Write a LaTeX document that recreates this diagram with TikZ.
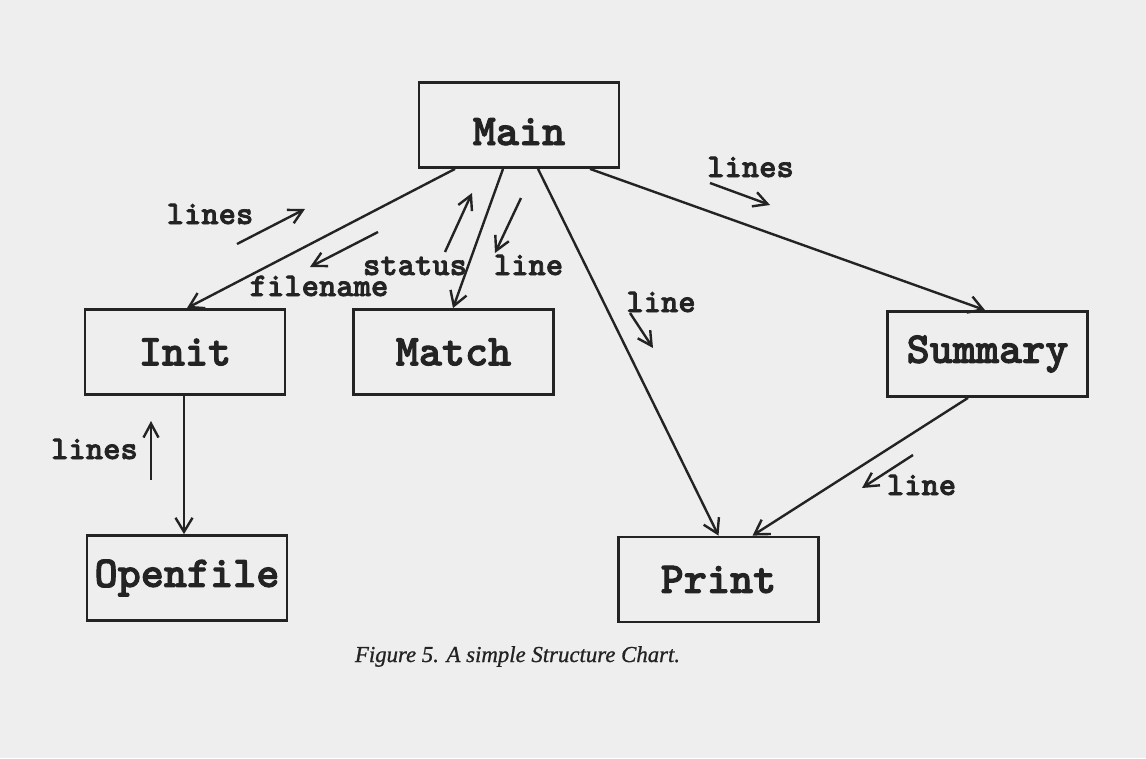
\documentclass[tikz,border=0pt]{standalone}
\usepackage{fontspec}
\newfontfamily\captionfont[FakeBold=0.8]{Liberation Serif}
\newfontfamily\chartfont[FakeBold=2.2]{lmmonolt10-bold.otf}
\usetikzlibrary{arrows.meta}
\definecolor{paper}{RGB}{238,238,238}
\definecolor{ink}{RGB}{35,35,35}
\tikzset{
  module/.style={draw=ink, line width=2.8pt, fill=paper, inner sep=0pt,
    minimum width=200pt, minimum height=85pt,
    font=\fontsize{44}{46}\selectfont\chartfont, text=ink},
  call/.style={draw=ink, line width=2.4pt,
    -{Straight Barb[length=14pt,width=17pt,line width=2.4pt]}},
  flow/.style={draw=ink, line width=2.4pt,
    -{Straight Barb[length=14pt,width=15pt,line width=2.4pt]}},
  datalabel/.style={anchor=base, inner sep=0pt, text=ink,
    font=\fontsize{33}{34}\selectfont\chartfont}
}
\begin{document}
\begin{tikzpicture}[x=1pt, y=-1pt]
\fill[paper] (0,0) rectangle (1146,758);
\useasboundingbox (0,0) rectangle (1146,758);

% modules
\node[module, text height=40pt, text depth=0pt] (main) at (519,125) {Main};
\node[module] (init)     at (185,352)     {Init};
\node[module] (match)    at (453.5,352)   {Match};
\node[module] (summary)  at (987.5,354)   {Summary};
\node[module] (print)    at (718.5,579.5) {Print};
\node[module] (openfile) at (187,578)     {Openfile};

% calls
\draw[call] ([xshift=-64pt]main.south)   -- ([xshift=2pt]init.north);
\draw[call] ([xshift=-16pt]main.south)   -- ([xshift=-0.5pt]match.north);
\draw[call] ([xshift=19pt]main.south)    -- (print.north);
\draw[call] ([xshift=71pt]main.south)    -- ([xshift=-2.5pt]summary.north);
\draw[call] ([xshift=-19.5pt]summary.south) -- ([xshift=34pt]print.north);
\draw[call] ([xshift=-1pt]init.south)    -- ([xshift=-3pt]openfile.north);

% data couples
\coordinate (l1a) at (237,244); \coordinate (l1b) at (305,209);
\coordinate (fna) at (378,232); \coordinate (fnb) at (310,267);
\coordinate (sta) at (445,252); \coordinate (stb) at (472,193);
\coordinate (lma) at (521,198); \coordinate (lmb) at (495,253);
\coordinate (lsa) at (710,183); \coordinate (lsb) at (770,205);
\coordinate (lpa) at (630,313); \coordinate (lpb) at (653,348);
\coordinate (lqa) at (913,455); \coordinate (lqb) at (862,488);
\coordinate (loa) at (151,480); \coordinate (lob) at (151,421);

\draw[flow] (l1a) -- (l1b);
\draw[flow] (fna) -- (fnb);
\draw[flow] (sta) -- (stb);
\draw[flow] (lma) -- (lmb);
\draw[flow] (lsa) -- (lsb);
\draw[flow] (lpa) -- (lpb);
\draw[flow] (lqa) -- (lqb);
\draw[flow] (loa) -- (lob);

\node[datalabel] (t1) at (210,224)   {lines};
\node[datalabel] (t2) at (319,296)   {filename};
\node[datalabel] (t3) at (415,275)   {status};
\node[datalabel] (t4) at (528.5,275) {line};
\node[datalabel] (t5) at (750.5,177) {lines};
\node[datalabel] (t6) at (661,312)   {line};
\node[datalabel] (t7) at (921.5,495) {line};
\node[datalabel] (t8) at (94.5,459)  {lines};

% caption
\node[anchor=base, inner sep=0pt, text=ink,
      font=\fontsize{22.8}{25}\selectfont\captionfont\itshape]
  (cap) at (517.5,662) {Figure 5. A simple Structure Chart.};
\end{tikzpicture}
\end{document}
